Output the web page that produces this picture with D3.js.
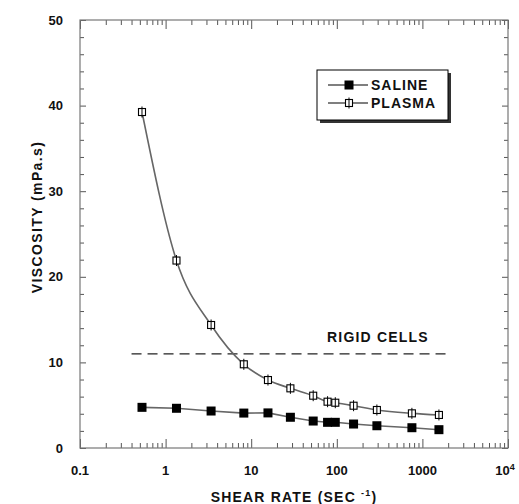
<!doctype html>
<html lang='en'>
<head>
  <meta charset='UTF-8'>
  <title>Viscosity</title>
  <style>
    body { margin: 0; background: #fff; }
    text { font-family: 'Liberation Sans', Arial, sans-serif; font-weight: bold; fill: #111; }
    .tick line { stroke: #555; }
  </style>
</head>
<body>
<script src='https://d3js.org/d3.v7.min.js'></script>
<script>
  const shearRate = [0.53, 1.34, 3.4, 8.2, 15.7, 28.7, 53, 78, 96, 157, 294, 754, 1560]
  const saline = [4.75, 4.64, 4.32, 4.08, 4.1, 3.59, 3.15, 3.0, 3.0, 2.8, 2.6, 2.37, 2.14]
  const plasma = [39.25, 21.9, 14.37, 9.78, 7.94, 6.97, 6.11, 5.41, 5.29, 4.94, 4.44, 4.05, 3.86]
  const rigidX = [0.4, 2000]
  const rigidY = 11
  const xTicks = [0.1, 1, 10, 100, 1000, 10000]
  const yTicks = [0, 10, 20, 30, 40, 50]

  const W = 519, H = 504
  const x = d3.scaleLog().domain([0.1, 1e4]).range([80, 508])
  const y = d3.scaleLinear().domain([0, 50]).range([448, 20])

  const svg = d3.select('body').append('svg')
    .attr('width', W)
    .attr('height', H)

  // minor log ticks
  const minorX = []
  for (let d = 0.1; d < 1e4; d *= 10) {
    for (let k = 2; k <= 9; k++) minorX.push(d * k)
  }
  const minorY = d3.range(0, 51, 2).filter(v => v % 10 !== 0)

  function ticksOnly(g) {
    g.select('.domain').remove()
    g.selectAll('text').remove()
  }

  svg.append('g').attr('transform', 'translate(0,448)')
    .call(d3.axisBottom(x).tickValues(xTicks).tickSize(-9).tickFormat('')).call(ticksOnly)
  svg.append('g').attr('transform', 'translate(0,448)')
    .call(d3.axisBottom(x).tickValues(minorX).tickSize(-5).tickFormat('')).call(ticksOnly)
  svg.append('g').attr('transform', 'translate(0,20)')
    .call(d3.axisTop(x).tickValues(xTicks).tickSize(-9).tickFormat('')).call(ticksOnly)
  svg.append('g').attr('transform', 'translate(0,20)')
    .call(d3.axisTop(x).tickValues(minorX).tickSize(-5).tickFormat('')).call(ticksOnly)

  svg.append('g').attr('transform', 'translate(80,0)')
    .call(d3.axisLeft(y).tickValues(yTicks).tickSize(-6).tickFormat('')).call(ticksOnly)
  svg.append('g').attr('transform', 'translate(80,0)')
    .call(d3.axisLeft(y).tickValues(minorY).tickSize(-4).tickFormat('')).call(ticksOnly)
  svg.append('g').attr('transform', 'translate(508,0)')
    .call(d3.axisRight(y).tickValues(yTicks).tickSize(-6).tickFormat('')).call(ticksOnly)
  svg.append('g').attr('transform', 'translate(508,0)')
    .call(d3.axisRight(y).tickValues(minorY).tickSize(-4).tickFormat('')).call(ticksOnly)

  // frame
  svg.append('rect')
    .attr('x', 80).attr('y', 20)
    .attr('width', 428).attr('height', 428)
    .attr('fill', 'none').attr('stroke', '#777').attr('stroke-width', 1.2)

  // tick labels
  svg.append('g').selectAll('text')
    .data(yTicks).join('text')
    .attr('x', 63).attr('y', d => y(d)).attr('dy', '0.35em')
    .attr('text-anchor', 'end').style('font-size', '13px')
    .text(d => d)

  const xl = svg.append('g').selectAll('text')
    .data(xTicks).join('text')
    .attr('x', d => x(d) - (d === 10000 ? 3 : 0)).attr('y', 475)
    .attr('text-anchor', 'middle').style('font-size', '13px')
  xl.filter(d => d < 10000).text(d => d)
  xl.filter(d => d === 10000).each(function () {
    const t = d3.select(this)
    t.append('tspan').text('10')
    t.append('tspan').attr('dy', -5).style('font-size', '9px').text('4')
  })

  // axis titles
  const xt = svg.append('text')
    .attr('x', 294).attr('y', 502)
    .attr('text-anchor', 'middle')
    .style('font-size', '14px').style('letter-spacing', '1.2px')
  xt.append('tspan').text('SHEAR RATE (SEC ')
  xt.append('tspan').attr('dy', -6).style('font-size', '9px').text('-1')
  xt.append('tspan').attr('dy', 6).text(')')

  svg.append('text')
    .attr('transform', 'translate(42,217) rotate(-90)')
    .attr('text-anchor', 'middle')
    .style('font-size', '14px').style('letter-spacing', '1.4px')
    .text('VISCOSITY (mPa.s)')

  // rigid cells
  svg.append('line')
    .attr('x1', x(rigidX[0])).attr('x2', x(rigidX[1]))
    .attr('y1', y(rigidY)).attr('y2', y(rigidY))
    .attr('stroke', '#222').attr('stroke-width', 1.3)
    .attr('stroke-dasharray', '10,6')
  svg.append('text')
    .attr('x', 327).attr('y', 342)
    .style('font-size', '14px').style('letter-spacing', '1.2px')
    .text('RIGID CELLS')

  const curve = d3.line()
    .x(d => x(d[0])).y(d => y(d[1]))
    .curve(d3.curveMonotoneX)
  const straight = d3.line()
    .x(d => x(d[0])).y(d => y(d[1]))

  const salinePts = shearRate.map((s, i) => [s, saline[i]])
  const plasmaPts = shearRate.map((s, i) => [s, plasma[i]])

  svg.append('path').datum(salinePts).attr('d', straight)
    .attr('fill', 'none').attr('stroke', '#666').attr('stroke-width', 1.6)
  svg.append('path').datum(plasmaPts).attr('d', curve)
    .attr('fill', 'none').attr('stroke', '#666').attr('stroke-width', 1.6)

  svg.append('g').selectAll('rect')
    .data(salinePts).join('rect')
    .attr('x', d => x(d[0]) - 4.5).attr('y', d => y(d[1]) - 4.5)
    .attr('width', 9).attr('height', 9).attr('fill', '#000')

  const pm = svg.append('g').selectAll('g')
    .data(plasmaPts).join('g')
    .attr('transform', d => `translate(${x(d[0])},${y(d[1])})`)
  pm.append('rect')
    .attr('x', -3.5).attr('y', -3.5).attr('width', 7).attr('height', 7)
    .attr('fill', '#fff').attr('stroke', '#000').attr('stroke-width', 1.1)
  pm.append('line')
    .attr('x1', 0).attr('x2', 0).attr('y1', -5.5).attr('y2', 5.5)
    .attr('stroke', '#000').attr('stroke-width', 1)

  // legend
  const lg = svg.append('g')
  lg.append('rect').attr('x', 320).attr('y', 73).attr('width', 131).attr('height', 50)
    .attr('fill', '#333')
  lg.append('rect').attr('x', 317).attr('y', 70).attr('width', 131).attr('height', 50)
    .attr('fill', '#fff').attr('stroke', '#000').attr('stroke-width', 1)
  const rows = [{ name: 'SALINE', y: 85, filled: true }, { name: 'PLASMA', y: 103, filled: false }]
  rows.forEach(r => {
    lg.append('line').attr('x1', 328).attr('x2', 368).attr('y1', r.y).attr('y2', r.y)
      .attr('stroke', '#000').attr('stroke-width', 1.2)
    if (r.filled) {
      lg.append('rect').attr('x', 344.5).attr('y', r.y - 4.5).attr('width', 9).attr('height', 9).attr('fill', '#000')
    } else {
      lg.append('rect').attr('x', 345.5).attr('y', r.y - 3.5).attr('width', 7).attr('height', 7)
        .attr('fill', '#fff').attr('stroke', '#000').attr('stroke-width', 1.1)
      lg.append('line').attr('x1', 349).attr('x2', 349).attr('y1', r.y - 5.5).attr('y2', r.y + 5.5)
        .attr('stroke', '#000')
    }
    lg.append('text').attr('x', 371).attr('y', r.y).attr('dy', '0.36em')
      .style('font-size', '14px').style('letter-spacing', '1px')
      .text(r.name)
  })
</script>
</body>
</html>
